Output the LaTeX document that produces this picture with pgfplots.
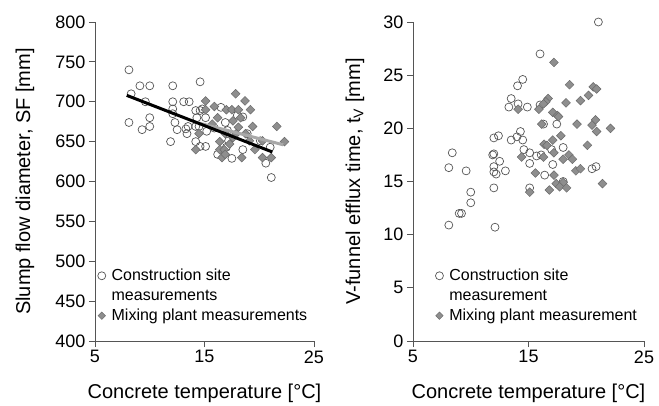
\documentclass[border=0pt]{standalone}
\usepackage{pgfplots}
\pgfplotsset{compat=1.18}
\usepackage{fontspec}
\setmainfont{Liberation Sans}
\definecolor{circedge}{HTML}{555555}
\definecolor{diafill}{HTML}{8E8E8E}
\definecolor{diaedge}{HTML}{6A6A6A}
\definecolor{axcol}{HTML}{555555}
\definecolor{lgline}{HTML}{A8A8A8}
\pgfplotsset{
  myaxis/.style={
    scale only axis,
    anchor=south west,
    axis x line=bottom, axis y line=left,
    axis line style={-, draw=axcol, line width=0.8pt},
    tick style={draw=axcol, line width=0.8pt},
    tick align=outside,
    major tick length=6pt,
    xmin=5, xmax=25, xtick={5,15,25},
    /pgf/number format/assume math mode=true,
    ticklabel style={font=\fontsize{18}{20}\selectfont},
    label style={font=\fontsize{20}{22}\selectfont},
    legend style={draw=none, fill=none, font=\fontsize{16}{17}\selectfont, anchor=north west,
      row sep=3.5pt, inner sep=1pt},
    legend cell align=left,
    clip=false,
  },
  circ/.style={only marks, mark=o, mark size=4pt, mark options={draw=circedge, line width=0.7pt},
    legend image code/.code={\path (0cm,0cm) (0.42cm,0cm); \draw[##1] plot coordinates {(0.15cm,0cm)};}},
  dia/.style={only marks, mark=square*, mark size=3.1pt, mark options={rotate=45, fill=diafill, draw=diaedge, line width=0.5pt},
    legend image code/.code={\path (0cm,0cm) (0.42cm,0cm); \draw[##1,mark size=2.6pt] plot coordinates {(0.15cm,0cm)};}},
}
\begin{document}
\begin{tikzpicture}
\path[use as bounding box] (0,0) rectangle (659pt,405pt);
% Left panel
\begin{axis}[myaxis,
  at={(95pt,64pt)}, width=219pt, height=319pt,
  ymin=400, ymax=800, ytick={400,450,...,800},
  xlabel={Concrete temperature [°C]},
  ylabel={Slump flow diameter, SF [mm]},
  xlabel style={at={(axis description cs:0.5,-0.163)}, anchor=center},
  ylabel style={at={(axis description cs:-0.32,0.5)}, anchor=center, rotate=0},
  legend style={at={(axis description cs:0.005,0.235)}},
]
\addplot[circ] coordinates {
(8.1,740) (8.3,710) (8.1,674) (9.1,720) (10.0,720) (9.6,700) (9.3,665) (10.0,680) (10.0,669)
(12.1,720) (12.1,700) (12.1,685) (12.3,674) (12.5,665) (11.9,650) (13.1,700) (13.6,700)
(13.5,669) (13.4,660) (14.6,725) (14.2,689) (14.3,680) (14.6,689) (15.1,680) (14.5,669)
(14.2,650) (14.6,644) (15.1,644) (15.2,663) (16.2,634) (16.5,693) (16.9,674) (17.1,664)
(17.2,651) (17.0,643) (17.5,629) (18.0,683) (18.5,681) (18.5,640) (18.9,660) (20.1,651)
(20.6,623) (21.1,605) (21.0,643) (15.9,667) (14.2,669) (14.8,691) (12.1,691) (13.3,666)
};
\addlegendentry{Construction site}
\addlegendimage{empty legend}
\addlegendentry{measurements}
\addplot[dia] coordinates {
(15.1,701) (15.1,690) (15.9,694) (16.2,680) (17.0,690) (17.5,690) (17.85,710) (18.1,690)
(18.3,680) (18.7,701) (19.2,690) (19.4,669) (14.5,660) (14.2,640) (16.4,650) (16.4,640)
(16.8,640) (16.6,630) (16.9,634) (17.3,647) (17.6,655) (18.1,668) (18.4,630) (18.75,660)
(19.1,651) (19.6,640) (20.3,630) (21.1,630) (21.6,669) (22.3,650) (17.6,676) (17.9,660)
(20.3,651) (15.7,672) (16.9,660)
};
\addlegendentry{Mixing plant measurements}
\end{axis}
% Overlay for the trend lines (drawn above the markers)
\begin{axis}[scale only axis, anchor=south west, hide axis, clip=false,
  at={(95pt,64pt)}, width=219pt, height=319pt,
  xmin=5, xmax=25, ymin=400, ymax=800]
\addplot[draw=lgline, line width=3pt, mark=none] coordinates {(14.0,675) (22.2,646)};
\addplot[draw=black, line width=3pt, mark=none] coordinates {(7.9,708) (21.2,637)};
\end{axis}
% Right panel
\begin{axis}[myaxis,
  at={(413pt,64pt)}, width=231pt, height=319pt,
  ymin=0, ymax=30, ytick={0,5,...,30},
  xlabel={Concrete temperature [°C]},
  ylabel={V-funnel efflux time, t\textsubscript{V} [mm]},
  xlabel style={at={(axis description cs:0.5,-0.163)}, anchor=center},
  ylabel style={at={(axis description cs:-0.251,0.5)}, anchor=center, rotate=0},
  legend style={at={(axis description cs:0.09,0.235)}},
]
\addplot[circ] coordinates {
(21.05,30) (16.0,27.0) (14.5,24.6) (14.05,24.0) (13.5,22.8) (13.3,22.0) (14.1,22.3) (14.9,22.0)
(16.0,22.2) (16.3,20.4) (17.45,20.4) (14.3,19.7) (13.5,18.9) (14.0,19.2) (14.5,18.9) (12.4,19.3)
(12.0,19.1) (14.6,18.0) (15.1,17.7) (15.7,17.4) (16.1,17.5) (17.0,18.0) (18.0,18.2) (11.9,17.5)
(12.0,17.6) (12.5,16.9) (8.4,17.7) (8.1,16.3) (9.6,16.0) (12.0,16.4) (12.0,15.9) (12.2,15.7)
(13.0,16.0) (15.1,16.7) (16.4,15.6) (17.1,16.6) (20.5,16.2) (20.85,16.4) (12.0,14.4) (15.1,14.4)
(10.0,14.0) (8.1,10.9) (9.0,12.0) (9.2,12.0) (10.0,13.0) (12.1,10.7) (18.0,15.0)
};
\addlegendentry{Construction site}
\addlegendimage{empty legend}
\addlegendentry{measurement}
\addplot[dia] coordinates {
(17.2,26.2) (18.55,24.1) (20.6,23.9) (20.9,23.7) (20.2,23.1) (19.5,22.6) (18.25,22.4) (16.7,22.8)
(16.5,22.5) (16.3,22.3) (17.1,21.5) (15.9,21.8) (14.1,21.8) (17.5,21.2) (17.6,21.1) (20.8,20.8)
(20.5,20.3) (19.2,20.4) (16.15,20.4) (22.1,20.0) (20.9,19.7) (17.8,19.3) (17.1,18.9) (16.35,18.5)
(16.6,18.4) (17.2,17.7) (20.1,18.4) (14.4,17.3) (16.3,17.3) (18.0,17.1) (18.5,17.5) (18.8,17.1)
(19.1,16.0) (19.5,16.2) (15.6,15.8) (17.2,15.6) (17.4,14.8) (18.0,14.9) (17.7,14.5) (18.3,14.4)
(16.8,14.2) (15.1,14.0) (21.4,14.8)
};
\addlegendentry{Mixing plant measurement}
\end{axis}
\end{tikzpicture}
\end{document}
